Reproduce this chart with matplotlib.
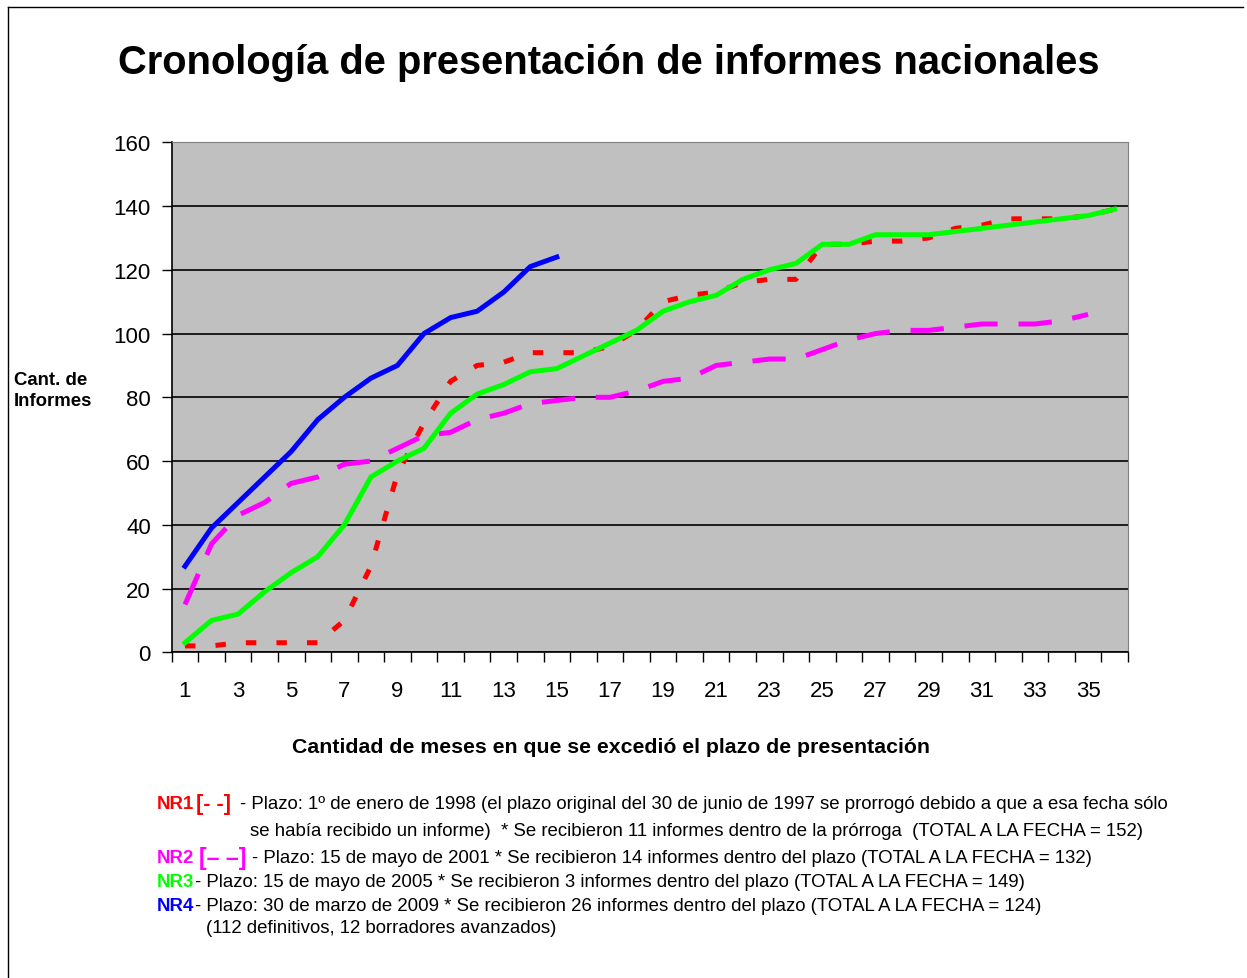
import matplotlib
matplotlib.use('Agg')
import matplotlib.pyplot as plt
from matplotlib.lines import Line2D

plt.rcParams['font.family'] = ['Liberation Sans', 'DejaVu Sans']
plt.rcParams['lines.scale_dashes'] = False

# Data: cumulative reports per month past deadline
months = list(range(1, 37))
nr1 = [2, 2, 3, 3, 3, 3, 10, 27, 56, 72, 85, 90, 91, 94, 94, 94, 96, 101, 110, 112,
       113, 116, 117, 117, 128, 128, 129, 129, 130, 133, 134, 136, 136, 136, 137, 139]
nr2 = [15, 34, 43, 47, 53, 55, 59, 60, 64, 68, 69, 73, 75, 78, 79, 80, 80, 82, 85, 86,
       90, 91, 92, 92, 95, 98, 100, 101, 101, 102, 103, 103, 103, 104, 106]
nr3 = [3, 10, 12, 19, 25, 30, 40, 55, 60, 64, 75, 81, 84, 88, 89, 93, 97, 101, 107, 110,
       112, 117, 120, 122, 128, 128, 131, 131, 131, 132, 133, 134, 135, 136, 137, 139]
nr4 = [27, 39, 47, 55, 63, 73, 80, 86, 90, 100, 105, 107, 113, 121, 124]
y_ticks = [0, 20, 40, 60, 80, 100, 120, 140, 160]

W, H = 1247, 979
fig = plt.figure(figsize=(W / 100, H / 100), dpi=100)


def fx(x):
    return x / W


def fy(y):
    return 1 - y / H


# page frame
fig.add_artist(Line2D([fx(8), fx(8)], [0, fy(8)], color='black', lw=1))
fig.add_artist(Line2D([fx(8), fx(1243)], [fy(8), fy(8)], color='black', lw=1))

left, right, top, bottom = 171.7, 1127.9, 143.3, 653.3
ax = fig.add_axes([fx(left), fy(bottom), fx(right - left), (bottom - top) / H])
ax.set_facecolor('#C0C0C0')

lw = 3.6
ax.plot(months[:len(nr1)], nr1, color='#FF0000', lw=lw, dashes=(7.5, 14.5),
        dash_capstyle='butt', solid_joinstyle='miter')
ax.plot(months[:len(nr2)], nr2, color='#FF00FF', lw=lw, dashes=(24, 15),
        dash_capstyle='butt')
ax.plot(months[:len(nr3)], nr3, color='#00FF00', lw=lw)
ax.plot(months[:len(nr4)], nr4, color='#0000FF', lw=lw)

ax.set_xlim(0.5, 36.5)
ax.set_ylim(0, 160)
ax.set_yticks(y_ticks)
ax.set_yticklabels([str(v) for v in y_ticks], fontsize=16)
ax.yaxis.grid(True, color='black', lw=1.2)
ax.set_axisbelow(True)

ax.set_xticks([m + 0.5 for m in range(0, 37)])
ax.set_xticklabels([])
ax.set_xticks(months, minor=True)
ax.set_xticklabels([str(m) if m % 2 == 1 else '' for m in months], minor=True, fontsize=16)
ax.tick_params(axis='x', which='minor', length=0, pad=20)
ax.tick_params(axis='x', which='major', length=7, width=1, direction='out')
ax.tick_params(axis='y', length=7, width=1, direction='out', pad=8)

for s in ['top', 'right']:
    ax.spines[s].set_color('#808080')
for s in ['left', 'bottom']:
    ax.spines[s].set_color('black')
    ax.spines[s].set_linewidth(1.2)

fig.text(fx(608.5), fy(63), 'Cronología de presentación de informes nacionales',
         fontsize=28.7, fontweight='bold', ha='center', va='center')
fig.text(fx(14), fy(391), 'Cant. de\nInformes', fontsize=13.4, fontweight='bold',
         ha='left', va='center', linespacing=1.35)
fig.text(fx(611), fy(748), 'Cantidad de meses en que se excedió el plazo de presentación',
         fontsize=15.3, fontweight='bold', ha='center', va='center')

fs = 13.45
rows = [
    (805, [(157, 'NR1', '#FF0000', 'bold', fs), (196, '[- -]', '#FF0000', 'bold', 15.5),
           (240, '- Plazo: 1º de enero de 1998 (el plazo original del 30 de junio de 1997 '
                 'se prorrogó debido a que a esa fecha sólo', 'black', 'normal', fs)]),
    (831, [(250, 'se había recibido un informe)  * Se recibieron 11 informes dentro de la '
                 'prórroga  (TOTAL A LA FECHA = 152)', 'black', 'normal', fs)]),
    (859, [(157, 'NR2', '#FF00FF', 'bold', fs), (199, '[– –]', '#FF00FF', 'bold', 16.5),
           (252, '- Plazo: 15 de mayo de 2001 * Se recibieron 14 informes dentro del plazo '
                 '(TOTAL A LA FECHA = 132)', 'black', 'normal', fs)]),
    (883, [(157, 'NR3', '#00FF00', 'bold', fs),
           (195, '- Plazo: 15 de mayo de 2005 * Se recibieron 3 informes dentro del plazo '
                 '(TOTAL A LA FECHA = 149)', 'black', 'normal', fs)]),
    (907, [(157, 'NR4', '#0000FF', 'bold', fs),
           (195, '- Plazo: 30 de marzo de 2009 * Se recibieron 26 informes dentro del plazo '
                 '(TOTAL A LA FECHA = 124)', 'black', 'normal', fs)]),
    (929, [(206, '(112 definitivos, 12 borradores avanzados)', 'black', 'normal', fs)]),
]
for y, parts in rows:
    for x, txt, col, wt, size in parts:
        fig.text(fx(x), fy(y), txt, fontsize=size, color=col, fontweight=wt,
                 ha='left', va='center')

fig.savefig('out.png', dpi=100)
